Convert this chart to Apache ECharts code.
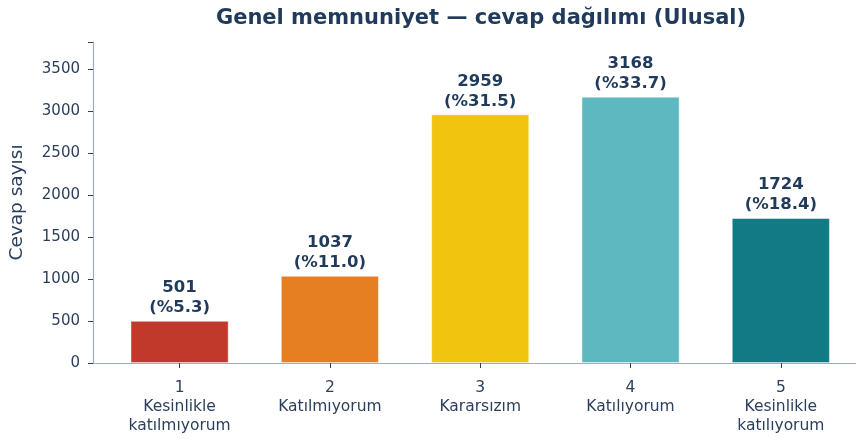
<!DOCTYPE html>
<html>
<head>
<meta charset="utf-8">
<script src="https://cdn.jsdelivr.net/npm/echarts@6/dist/echarts.min.js"></script>
<style>
  html, body { margin: 0; padding: 0; background: #fff; }
  #chart { width: 856px; height: 439px; }
</style>
</head>
<body>
<div id="chart"></div>
<script>
const codes = [1, 2, 3, 4, 5]
const answers = ['Kesinlikle\nkatılmıyorum', 'Katılmıyorum', 'Kararsızım', 'Katılıyorum', 'Kesinlikle\nkatılıyorum']
const counts = [501, 1037, 2959, 3168, 1724]
const percents = ['5.3', '11.0', '31.5', '33.7', '18.4']
const colors = ['#C0392B', '#E67E22', '#F1C40F', '#5DB8C0', '#127A84']
const yTicks = [0, 500, 1000, 1500, 2000, 2500, 3000, 3500]

const textColor = '#2B3F5C'
const axisColor = '#9EABBE'
const font = 'DejaVu Sans'

const chart = echarts.init(document.getElementById('chart'))
chart.setOption({
  animation: false,
  textStyle: { fontFamily: font },
  title: {
    text: 'Genel memnuniyet — cevap dağılımı (Ulusal)',
    left: 476,
    top: 3,
    textAlign: 'center',
    textStyle: { fontFamily: font, fontSize: 21, fontWeight: 'bold', color: '#1F3A5A' }
  },
  grid: { left: 89, right: 0, top: 42, bottom: 76 },
  xAxis: {
    type: 'value',
    min: -0.576,
    max: 4.5,
    splitLine: { show: false },
    axisLine: { show: true, onZero: false, lineStyle: { color: axisColor, width: 1.2 } },
    axisTick: { show: true, customValues: [0, 1, 2, 3, 4], length: 5, lineStyle: { color: textColor } },
    axisLabel: {
      customValues: [0, 1, 2, 3, 4],
      color: textColor,
      fontFamily: font,
      fontSize: 15.5,
      lineHeight: 19,
      margin: 15,
      formatter: v => codes[Math.round(v)] + '\n' + answers[Math.round(v)]
    }
  },
  yAxis: {
    type: 'value',
    min: 0,
    max: 3820,
    interval: 500,
    name: 'Cevap sayısı',
    nameLocation: 'middle',
    nameGap: 66,
    nameTextStyle: { fontFamily: font, fontSize: 18.5, color: textColor },
    splitLine: { show: false },
    axisLine: { show: true, onZero: false, lineStyle: { color: axisColor, width: 1.2 } },
    axisTick: { show: true, length: 5, lineStyle: { color: textColor } },
    axisLabel: {
      color: textColor,
      fontFamily: font,
      fontSize: 15,
      margin: 13,
      formatter: v => (yTicks.includes(v) ? String(v) : '')
    }
  },
  series: [{
    type: 'bar',
    barWidth: 98,
    data: counts.map((c, i) => ({
      value: [i, c],
      itemStyle: { color: colors[i], borderColor: 'rgba(255,255,255,0.6)', borderWidth: 0.8 }
    })),
    label: {
      show: true,
      position: 'top',
      distance: 3,
      color: '#1F3A5A',
      fontFamily: font,
      fontSize: 16.5,
      fontWeight: 'bold',
      lineHeight: 20,
      formatter: p => counts[p.dataIndex] + '\n(%' + percents[p.dataIndex] + ')'
    }
  }]
})
</script>
</body>
</html>
